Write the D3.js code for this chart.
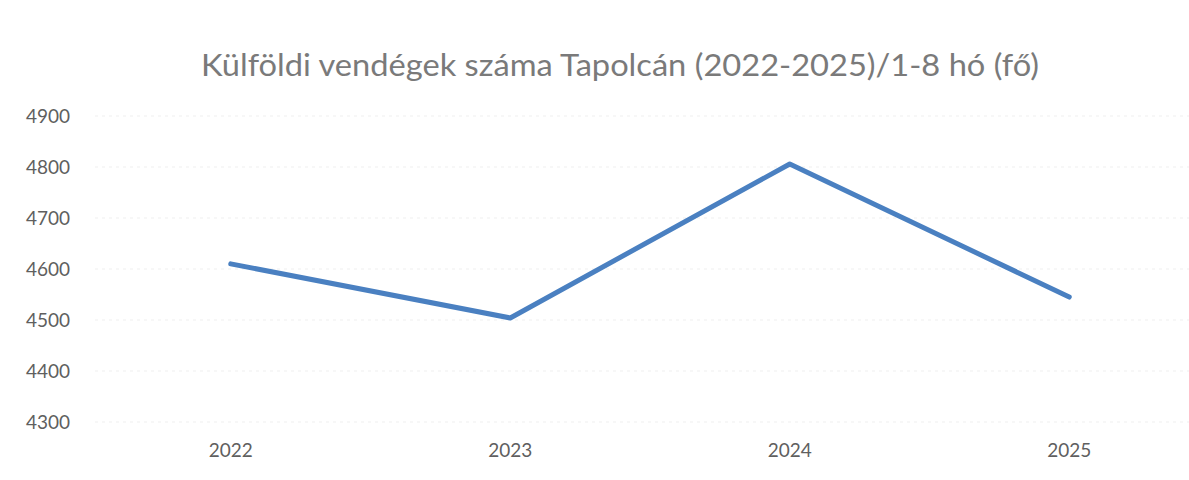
<!DOCTYPE html>
<html>
<head>
    <meta charset="utf-8">
    <title>Külföldi vendégek száma Tapolcán</title>
    <script src="https://d3js.org/d3.v7.min.js"></script>
    <style>
        body { margin: 0; background: #fff; }
        text { font-family: Lato, "Open Sans", sans-serif; fill: #5f5f5f; }
    </style>
</head>
<body>
    <div id="chart"></div>

    <script>
        const years = ["2022", "2023", "2024", "2025"];
        const guests = [4610, 4504, 4806, 4545];
        const yTicks = [4300, 4400, 4500, 4600, 4700, 4800, 4900];
        const title = "Külföldi vendégek száma Tapolcán (2022-2025)/1-8 hó (fő)";

        const width = 1189, height = 480;
        const margin = {top: 116, right: -20, bottom: 58, left: 91};

        const svg = d3.select("#chart").append("svg")
            .attr("width", width)
            .attr("height", height);

        const x = d3.scaleBand()
            .domain(years)
            .range([margin.left, width - margin.right]);

        const y = d3.scaleLinear()
            .domain([4300, 4900])
            .range([height - margin.bottom, margin.top]);

        // faint grid lines
        svg.append("g")
            .selectAll("line")
            .data(yTicks)
            .join("line")
            .attr("x1", 95)
            .attr("x2", width)
            .attr("y1", d => y(d))
            .attr("y2", d => y(d))
            .attr("stroke", "#efefef")
            .attr("stroke-width", 1)
            .attr("stroke-dasharray", "3,4");

        const yAxis = svg.append("g")
            .attr("transform", "translate(70,0)")
            .call(d3.axisLeft(y).tickValues(yTicks).tickSize(0).tickPadding(0).tickFormat(d3.format("d")));
        yAxis.select(".domain").remove();
        yAxis.selectAll("text").style("font-size", "19px").attr("fill", "#5f5f5f");

        const xAxis = svg.append("g")
            .attr("transform", "translate(0," + (height - margin.bottom) + ")")
            .call(d3.axisBottom(x).tickSize(0).tickPadding(22));
        xAxis.select(".domain").remove();
        xAxis.selectAll("text").style("font-size", "19px").attr("fill", "#5f5f5f");

        const line = d3.line()
            .x((d, i) => x(years[i]) + x.bandwidth() / 2)
            .y(d => y(d));

        svg.append("path")
            .datum(guests)
            .attr("d", line)
            .attr("fill", "none")
            .attr("stroke", "#4a80c1")
            .attr("stroke-width", 5)
            .attr("stroke-linejoin", "round")
            .attr("stroke-linecap", "round");

        svg.append("text")
            .attr("x", 620)
            .attr("y", 76)
            .attr("text-anchor", "middle")
            .attr("textLength", 838)
            .attr("lengthAdjust", "spacingAndGlyphs")
            .style("font-size", "30px")
            .style("fill", "#7a7a7a")
            .text(title);
    </script>
</body>
</html>
